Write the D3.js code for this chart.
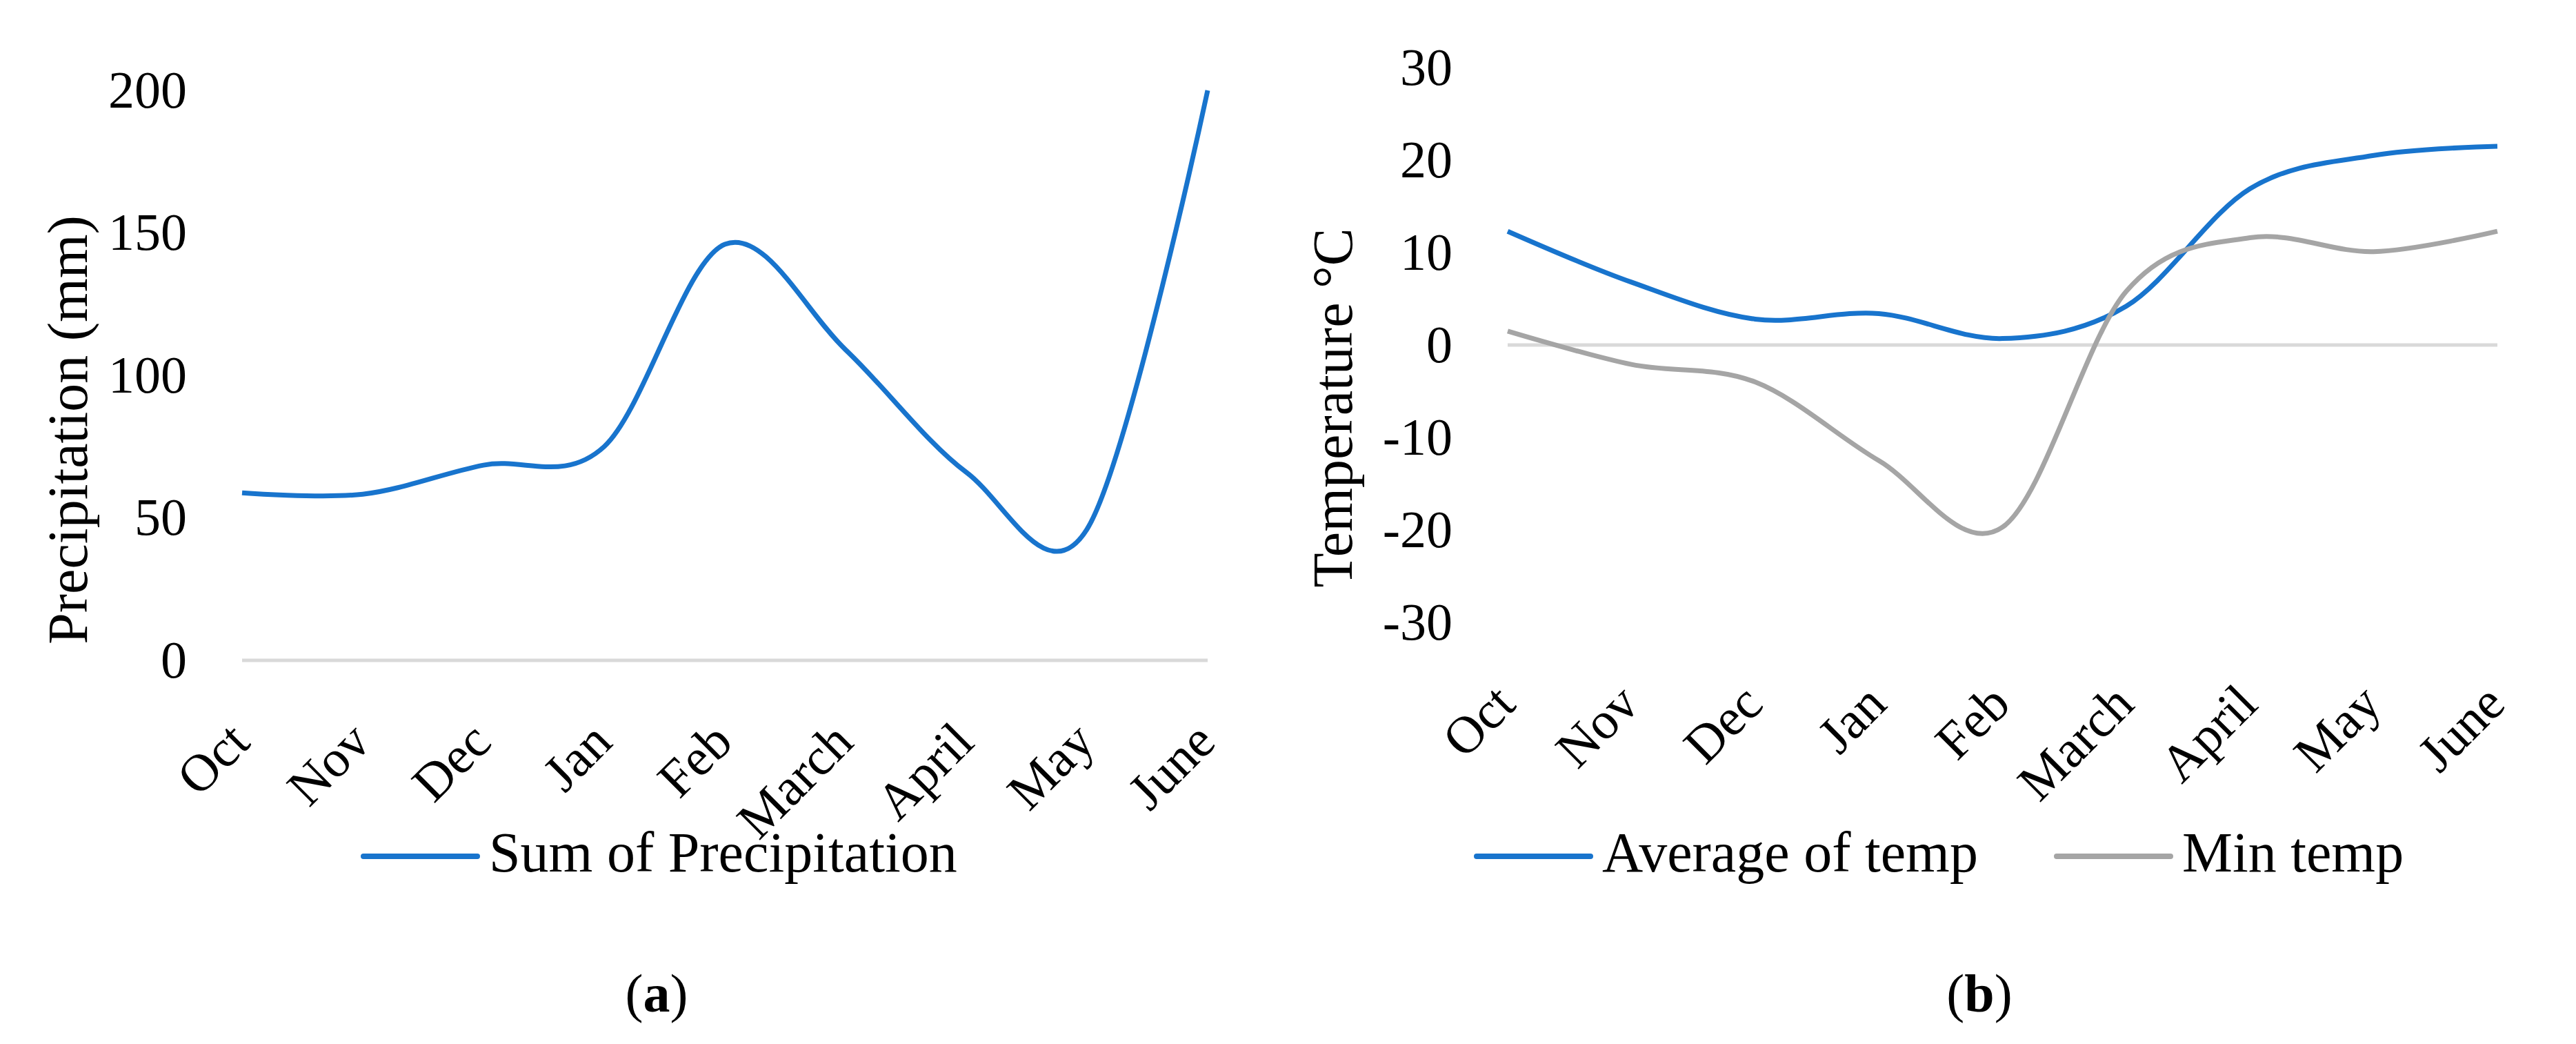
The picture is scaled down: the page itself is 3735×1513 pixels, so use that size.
<!DOCTYPE html>
<html>
<head>
<meta charset="utf-8">
<script src="https://cdn.jsdelivr.net/npm/d3@7"></script>
<style>
  body { margin: 0; background: #fff; }
  text { font-family: "Liberation Serif", "Times New Roman", serif; fill: #000; }
</style>
</head>
<body>
<svg id="chart"></svg>
<script>
// months on the x axis (both panels)
const months = ['Oct', 'Nov', 'Dec', 'Jan', 'Feb', 'March', 'April', 'May', 'June']

// (a) precipitation, mm
const precipitation = [58.8, 58.3, 68.5, 75, 146, 109, 66, 46, 200]
const precipTicks = [0, 50, 100, 150, 200]

// (b) temperature, °C
const avgTemp = [12.3, 6.8, 2.8, 3.4, 0.7, 4.2, 16.9, 20.5, 21.5]
const minTemp = [1.5, -2.1, -4.0, -12.5, -19.7, 5.8, 11.6, 10.1, 12.3]
const tempTicks = [-30, -20, -10, 0, 10, 20, 30]

const blue = '#1874cd'
const grey = '#a5a5a5'

const svg = d3.select('#chart')
  .attr('width', 3735)
  .attr('height', 1513)

svg.append('rect').attr('width', 3735).attr('height', 1513).attr('fill', '#fff')

function drawPanel(p) {
  const x = d3.scalePoint().domain(months).range(p.xRange)
  const y = d3.scaleLinear().domain(p.yDomain).range(p.yRange)
  const g = svg.append('g')

  // zero line
  g.append('line')
    .attr('x1', p.xRange[0]).attr('x2', p.xRange[1])
    .attr('y1', y(0)).attr('y2', y(0))
    .attr('stroke', '#d9d9d9')
    .attr('stroke-width', 5)

  // y axis labels (plain hyphen for negatives, like the original)
  g.append('g')
    .attr('transform', 'translate(' + p.xRange[0] + ',0)')
    .call(d3.axisLeft(y).tickValues(p.ticks).tickFormat(d => String(d)).tickSize(0).tickPadding(80))
    .call(a => a.select('.domain').remove())
    .selectAll('text')
    .attr('font-size', 76)
    .attr('font-family', '"Liberation Serif", serif')

  // x axis labels, rotated
  g.append('g')
    .attr('transform', 'translate(0,' + p.yRange[0] + ')')
    .call(d3.axisBottom(x).tickSize(0))
    .call(a => a.select('.domain').remove())
    .selectAll('text')
    .attr('font-size', 76)
    .attr('font-family', '"Liberation Serif", serif')
    .attr('x', 0).attr('y', 0).attr('dy', null)
    .attr('text-anchor', 'end')
    .attr('transform', 'translate(14,122) rotate(-45)')

  // lines
  const line = d3.line()
    .x((d, i) => x(months[i]))
    .y(d => y(d))
    .curve(d3.curveCardinal.tension(0))

  p.series.forEach(s => {
    g.append('path')
      .datum(s.values)
      .attr('fill', 'none')
      .attr('stroke', s.color)
      .attr('stroke-width', 7)
      .attr('stroke-linejoin', 'round')
      .attr('d', line)
  })

  // axis title
  g.append('text')
    .attr('transform', 'translate(' + p.title.x + ',' + p.title.y + ') rotate(-90)')
    .attr('text-anchor', 'middle')
    .attr('font-size', 82)
    .text(p.title.text)

  // legend
  p.legend.forEach(l => {
    g.append('line')
      .attr('x1', l.x).attr('x2', l.x + 165)
      .attr('y1', 1241).attr('y2', 1241)
      .attr('stroke', l.color)
      .attr('stroke-width', 8)
      .attr('stroke-linecap', 'round')
    g.append('text')
      .attr('x', l.x + 182)
      .attr('y', 1263)
      .attr('font-size', 82)
      .text(l.text)
  })

  // caption
  const cap = g.append('text')
    .attr('x', p.caption.x)
    .attr('y', 1466)
    .attr('text-anchor', 'middle')
    .attr('font-size', 78)
  cap.append('tspan').text('(')
  cap.append('tspan').attr('font-weight', 'bold').text(p.caption.text)
  cap.append('tspan').text(')')
}

drawPanel({
  xRange: [351, 1751],
  yDomain: [0, 200],
  yRange: [957, 131],
  ticks: precipTicks,
  series: [{ values: precipitation, color: blue }],
  title: { text: 'Precipitation (mm)', x: 126, y: 623 },
  legend: [{ text: 'Sum of Precipitation', color: blue, x: 527 }],
  caption: { text: 'a', x: 952 }
})

drawPanel({
  xRange: [2186, 3621],
  yDomain: [-30, 30],
  yRange: [902, 98],
  ticks: tempTicks,
  series: [
    { values: avgTemp, color: blue },
    { values: minTemp, color: grey }
  ],
  title: { text: 'Temperature °C', x: 1960, y: 591 },
  legend: [
    { text: 'Average of temp', color: blue, x: 2141 },
    { text: 'Min temp', color: grey, x: 2982 }
  ],
  caption: { text: 'b', x: 2870 }
})
</script>
</body>
</html>
